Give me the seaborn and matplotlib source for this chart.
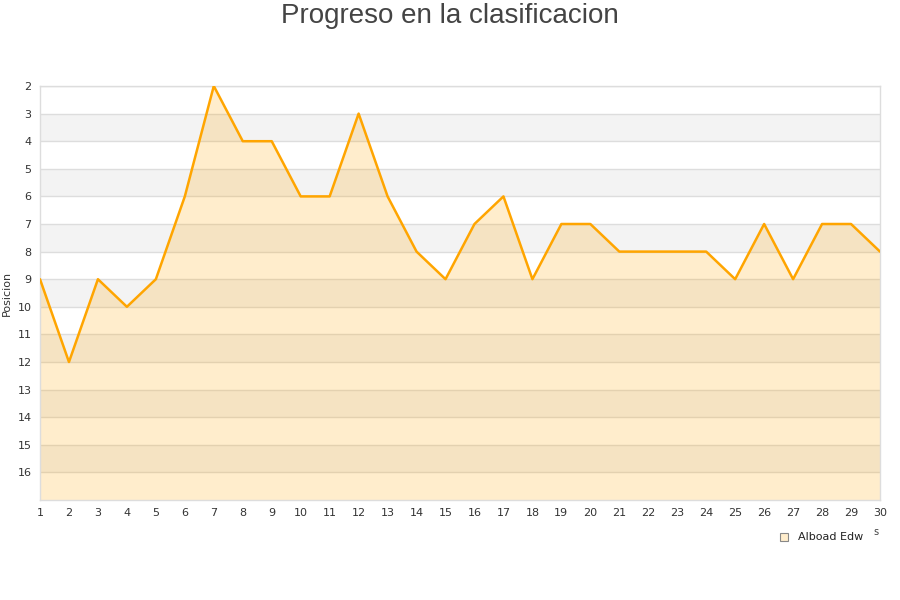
import matplotlib
matplotlib.use("Agg")
import matplotlib.pyplot as plt
import seaborn as sns
import pandas as pd
import numpy as np
from matplotlib.patches import Rectangle

jornadas = list(range(1, 31))
posicion = [9, 12, 9, 10, 9, 6, 2, 4, 4, 6, 6, 3, 6, 8, 9, 7, 6, 9, 7, 7,
            8, 8, 8, 8, 9, 7, 9, 7, 7, 8]
y_ticks = list(range(2, 17))
serie = "Alboad Edw"

df = pd.DataFrame({"Jornada": jornadas, "Posicion": posicion})

sns.set_theme(style="white")
plt.rcParams['font.family'] = ['DejaVu Sans']

fig = plt.figure(figsize=(9, 6), dpi=100)
ax = fig.add_axes([40/900, 100/600, 840/900, 414/600])

ymin, ymax = 2, 17
for k in range(ymin, ymax):
    if (k - ymin) % 2 == 1:
        ax.axhspan(k, k + 1, color="#f3f3f3", zorder=0, lw=0)
for k in range(ymin, ymax):
    ax.axhline(k, color="#dddddd", lw=1, zorder=1)

ax.fill_between(df["Jornada"], df["Posicion"], ymax, color="#FFA500", alpha=0.2,
                zorder=2, lw=0)
sns.lineplot(data=df, x="Jornada", y="Posicion", ax=ax, color="#FFA500",
             lw=1.8, zorder=3, legend=False)

ax.set_xlim(1, 30)
ax.set_ylim(ymax, ymin)
ax.set_xticks(jornadas)
ax.set_yticks(y_ticks)
ax.tick_params(axis="both", labelsize=8, colors="#333333", length=0, pad=6)
ax.set_xlabel("")
ax.set_ylabel("Posicion", fontsize=8, color="#333333", labelpad=4)
for s in ax.spines.values():
    s.set_color("#dddddd")
    s.set_linewidth(1)

fig.text(0.5, 1 - 16/600, "Progreso en la clasificacion", ha="center", va="center",
         fontsize=20, color="#444444", family="Liberation Sans")

fig.patches.append(Rectangle((780/900, 1 - 541/600), 8/900, 8/600,
                             transform=fig.transFigure, facecolor="#FFEDCC",
                             edgecolor="#888888", lw=0.8))
fig.text(798/900, 1 - 537/600, serie, fontsize=8, color="#222222", va="center")
fig.text(873/900, 1 - 532/600, "s", fontsize=7, color="#444444", va="center")

fig.savefig("out.png", dpi=100)
